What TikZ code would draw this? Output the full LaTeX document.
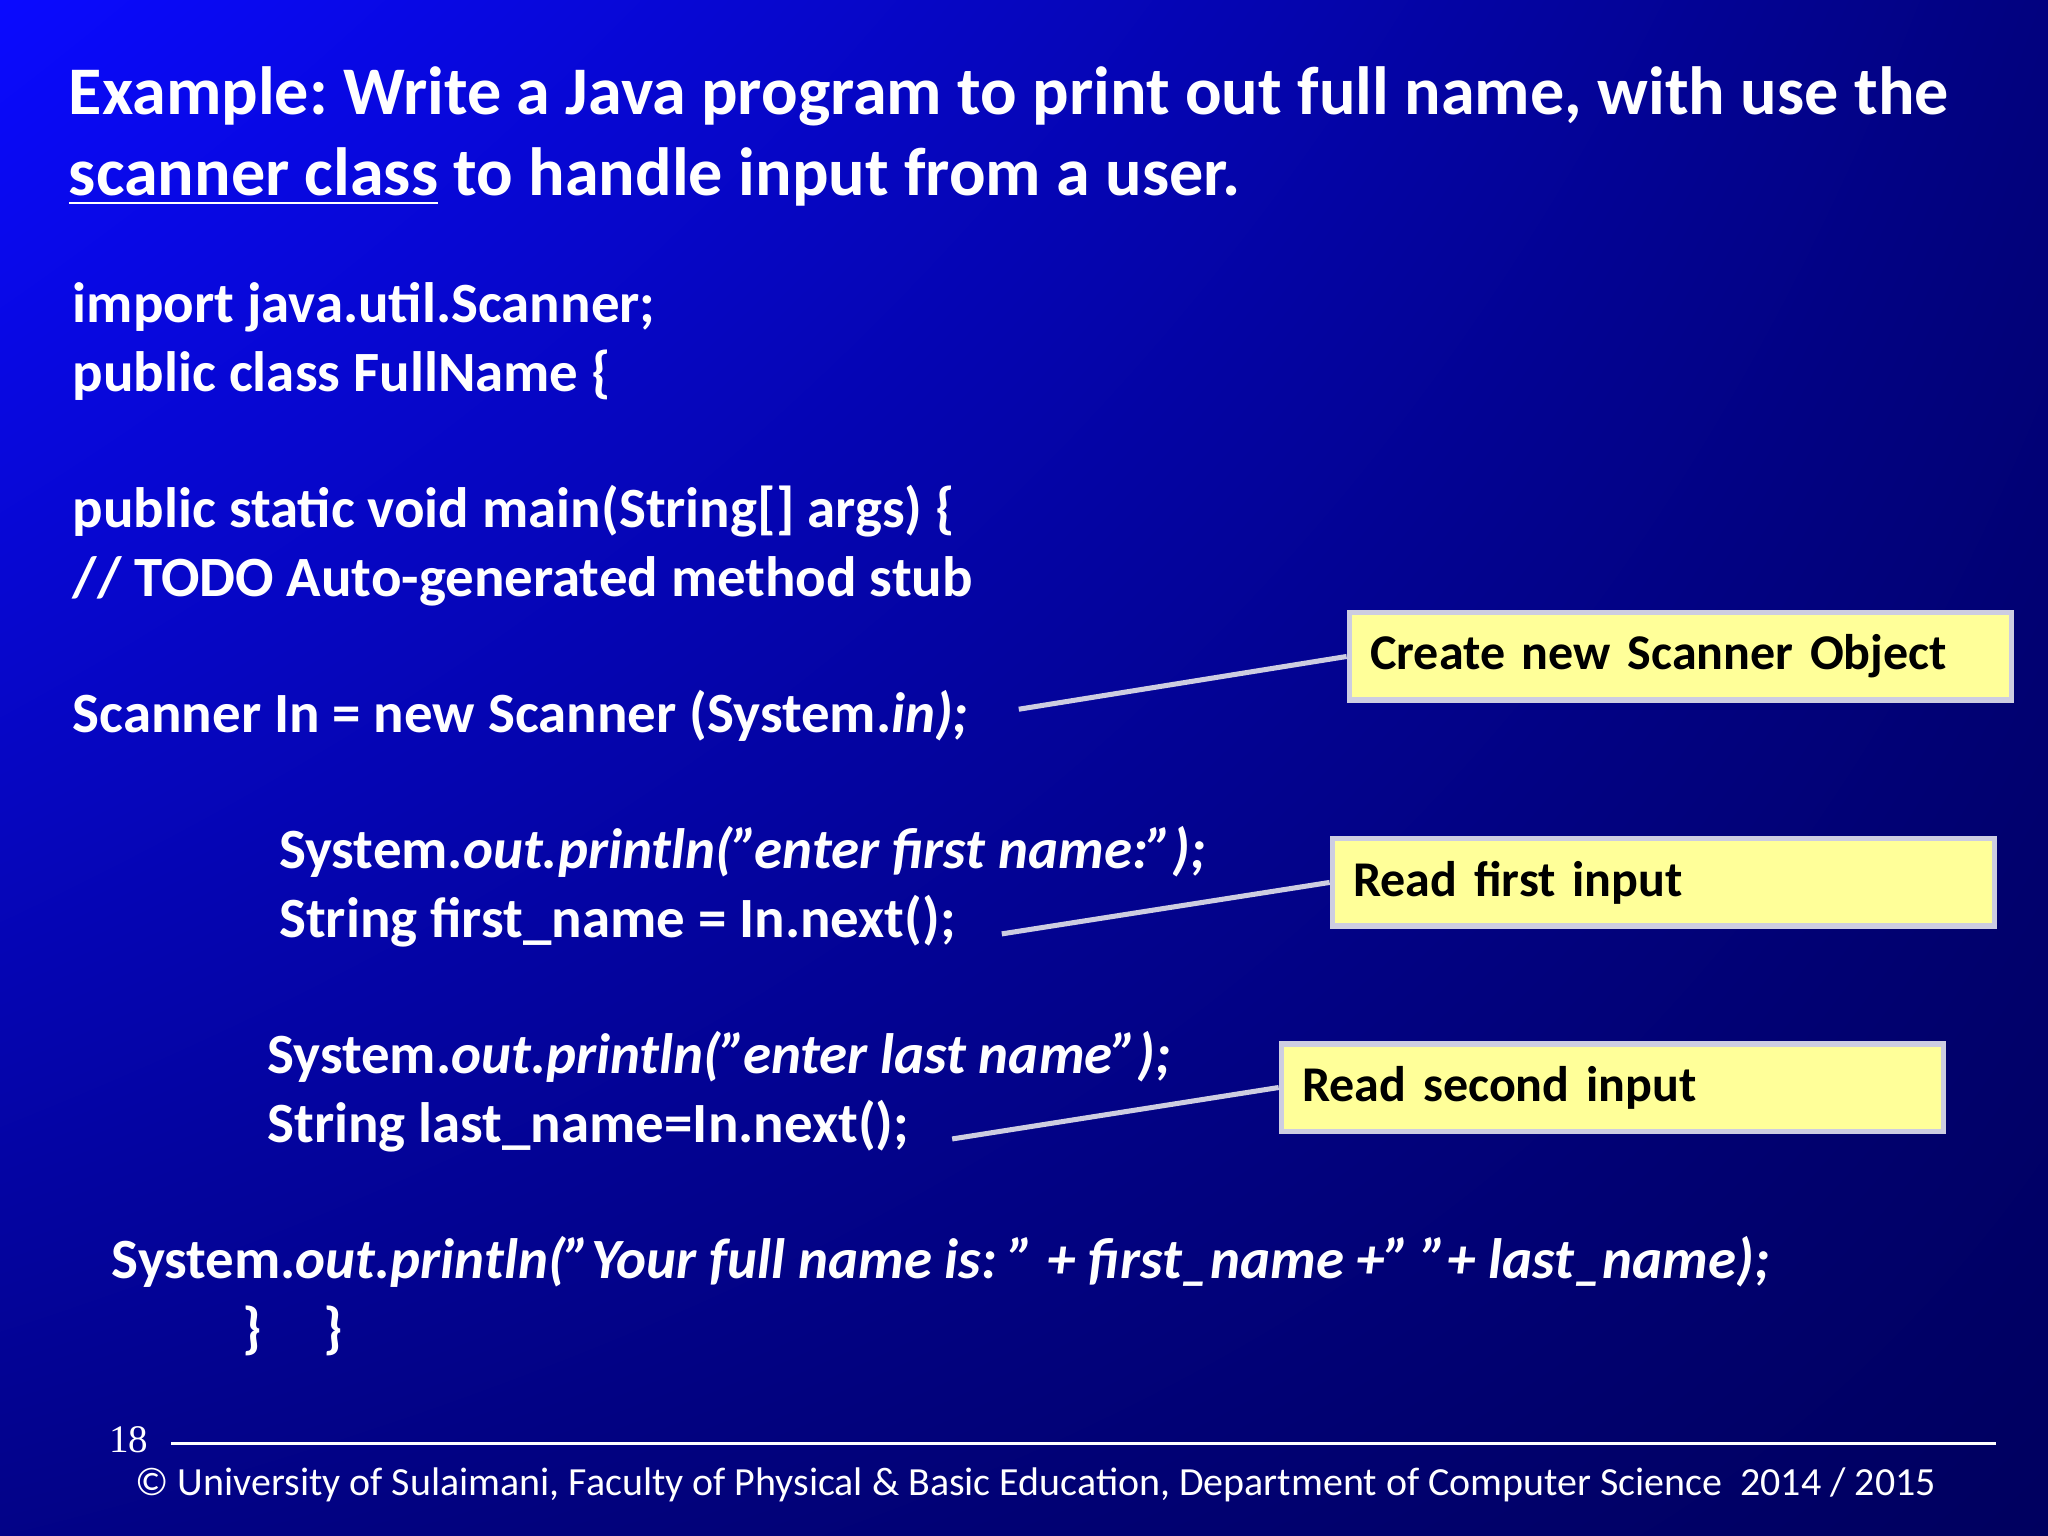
\documentclass[tikz,border=0pt]{standalone}
\usepackage{fontspec}
\setmainfont{Carlito}
\usetikzlibrary{positioning,calc,shadings}
\definecolor{slideblue}{RGB}{10,10,255}
\definecolor{slidenavy}{RGB}{0,0,95}
\definecolor{notefill}{RGB}{255,255,153}
\definecolor{noteline}{RGB}{205,205,225}
\newcommand{\dq}{\symbol{34}}
\frenchspacing
\tikzset{
    title/.style={anchor=base west, text=white, font=\fontsize{14.85}{17}\selectfont\bfseries, inner sep=0pt},
    code/.style={anchor=base west, text=white, font=\fontsize{12.4}{14}\selectfont\bfseries, inner sep=0pt},
    note/.style={draw=noteline, line width=1.2pt, fill=notefill, anchor=north west,
                 minimum width=5.07cm, minimum height=0.67cm, text width=4.75cm,
                 font=\fontsize{10.9}{13}\selectfont\bfseries, inner xsep=1.6mm},
    pointer/.style={draw=noteline, line width=1.1pt}
}
\begin{document}
\begin{tikzpicture}[x=0.1mm,y=-0.1mm]
        % Hintergrund
        \useasboundingbox (0,0) rectangle (1568,1176);
        \shade[upper left=slideblue, upper right=slidenavy!80!slideblue,
               lower left=slidenavy!75!slideblue, lower right=slidenavy] (0,0) rectangle (1568,1176);

        % Titel
        \node[title] (t1) at (52,88) {Example: Write a Java program to print out full name, with use the};
        \node[title] (t2) at (52,150) {\underline{scanner class} to handle input from a user.};

        % Programmtext
        \node[code] (imp) at (55,247) {import java.util.Scanner;};
        \node[code] (cls) at (55,300) {public class FullName \{};
        \node[code] (mainm) at (55,404) {public static void main(String[] args) \{};
        \node[code] (todo) at (55,457) {// TODO Auto-generated method stub};
        \node[code] (scan) at (55,561) {Scanner In = new Scanner (System.\textit{in);}};
        \node[code] (pfirst) at (213,665) {System.\textit{out.println(\dq enter first name:\dq);}};
        \node[code] (rfirst) at (213,718) {String first\_name = In.next();};
        \node[code] (plast) at (204,822) {System.\textit{out.println(\dq enter last name\dq);}};
        \node[code] (rlast) at (204,875) {String last\_name=In.next();};
        \node[code] (pfull) at (85,979) {System.\textit{out.println(\dq Your full name is: \dq\ + first\_name +\dq\ \dq+ last\_name);}};
        \node[code] (br1) at (185,1032) {\}};
        \node[code] (br2) at (247,1032) {\}};

        % Hinweise
        \node[note] (n1) at (1031,467) {Create new Scanner Object};
        \node[note] (n2) at (1018,640) {Read first input};
        \node[note] (n3) at (979,797) {Read second input};

        \coordinate (s1) at (780,543);
        \coordinate (s2) at (767,715);
        \coordinate (s3) at (729,872);
        \draw[pointer] (s1) -- (n1.west);
        \draw[pointer] (s2) -- (n2.west);
        \draw[pointer] (s3) -- (n3.west);

        % Fusszeile
        \node[anchor=base west, text=white, font=\fontsize{8.5}{10}\selectfont\fontspec{Liberation Serif}, inner sep=0pt] (pg) at (83,1112) {18};
        \coordinate (f1) at (131,1105);
        \coordinate (f2) at (1528,1105);
        \draw[white, line width=0.6pt] (f1) -- (f2);
        \node[anchor=base, text=white, font=\fontsize{8.7}{10}\selectfont, inner sep=0pt] (foot) at (793,1145)
            {© University of Sulaimani, Faculty of Physical \& Basic Education, Department of Computer Science~~2014 / 2015};
\end{tikzpicture}
\end{document}
